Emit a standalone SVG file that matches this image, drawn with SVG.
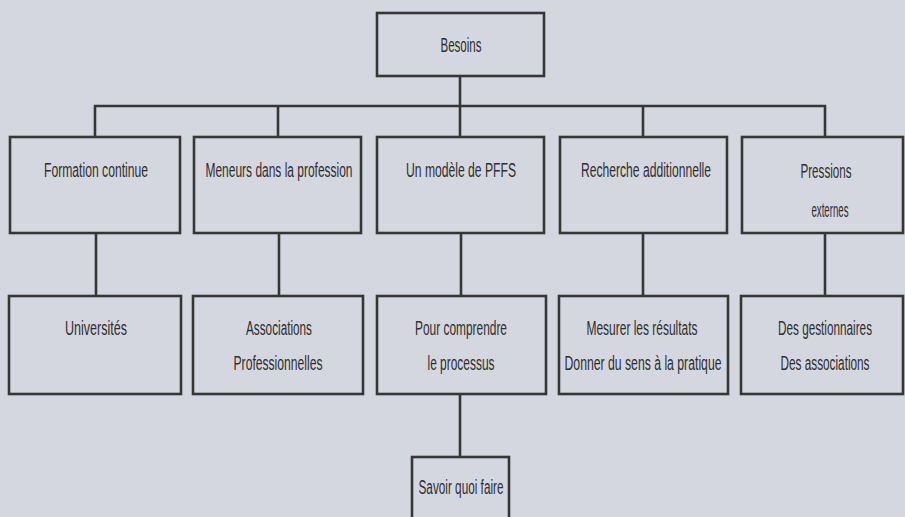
<svg xmlns="http://www.w3.org/2000/svg" width="905" height="517" viewBox="0 0 905 517">
  <style>
    .box { fill: none; stroke: #363636; stroke-width: 2.6; }
    .wire { fill: none; stroke: #363636; stroke-width: 2.6; stroke-linejoin: miter; }
    text { font-family: "Liberation Sans Narrow", "Liberation Sans", Arial, sans-serif; font-size: 20px; fill: #2e2e2e; text-anchor: middle; }
  </style>
  <rect width="905" height="517" fill="#d5d7e0"/>

  <!-- connectors -->
  <g id="connectors">
    <path class="wire" d="M460 76 V106 M95 137 V106 H825 V137 M278 106 V137 M460 106 V137 M643 106 V137"/>
    <path class="wire" d="M96 233 V296 M279 233 V296 M461 233 V296 M643 233 V296 M825 233 V296"/>
    <path class="wire" d="M460 394 V457"/>
  </g>

  <!-- root -->
  <g id="besoins">
    <rect class="box" x="377" y="13" width="167" height="63"/>
    <text x="461" y="52" textLength="41" lengthAdjust="spacingAndGlyphs">Besoins</text>
  </g>

  <!-- first level -->
  <g id="formation">
    <rect class="box" x="10" y="137" width="170" height="96"/>
    <text x="96" y="177" textLength="104" lengthAdjust="spacingAndGlyphs">Formation continue</text>
  </g>
  <g id="meneurs">
    <rect class="box" x="194" y="137" width="167" height="96"/>
    <text x="279" y="177" textLength="147" lengthAdjust="spacingAndGlyphs">Meneurs dans la profession</text>
  </g>
  <g id="modele">
    <rect class="box" x="377" y="137" width="167" height="96"/>
    <text x="461" y="177" textLength="110" lengthAdjust="spacingAndGlyphs">Un modèle de PFFS</text>
  </g>
  <g id="recherche">
    <rect class="box" x="560" y="137" width="167" height="96"/>
    <text x="646" y="177" textLength="130" lengthAdjust="spacingAndGlyphs">Recherche additionnelle</text>
  </g>
  <g id="pressions">
    <rect class="box" x="742" y="137" width="161" height="96"/>
    <text x="826" y="178" textLength="51" lengthAdjust="spacingAndGlyphs">Pressions</text>
    <text x="830" y="217" textLength="37" lengthAdjust="spacingAndGlyphs">externes</text>
  </g>

  <!-- second level -->
  <g id="universites">
    <rect class="box" x="9" y="296" width="172" height="98"/>
    <text x="96" y="335" textLength="62" lengthAdjust="spacingAndGlyphs">Universités</text>
  </g>
  <g id="associations">
    <rect class="box" x="193" y="296" width="170" height="98"/>
    <text x="279" y="335" textLength="66" lengthAdjust="spacingAndGlyphs">Associations</text>
    <text x="278" y="370" textLength="89" lengthAdjust="spacingAndGlyphs">Professionnelles</text>
  </g>
  <g id="comprendre">
    <rect class="box" x="377" y="296" width="169" height="98"/>
    <text x="461" y="335" textLength="92" lengthAdjust="spacingAndGlyphs">Pour comprendre</text>
    <text x="461" y="370" textLength="67" lengthAdjust="spacingAndGlyphs">le processus</text>
  </g>
  <g id="mesurer">
    <rect class="box" x="559" y="296" width="169" height="98"/>
    <text x="642" y="335" textLength="111" lengthAdjust="spacingAndGlyphs">Mesurer les résultats</text>
    <text x="643" y="370" textLength="157" lengthAdjust="spacingAndGlyphs">Donner du sens à la pratique</text>
  </g>
  <g id="gestionnaires">
    <rect class="box" x="741" y="296" width="162" height="98"/>
    <text x="825" y="335" textLength="94" lengthAdjust="spacingAndGlyphs">Des gestionnaires</text>
    <text x="825" y="370" textLength="89" lengthAdjust="spacingAndGlyphs">Des associations</text>
  </g>

  <!-- third level -->
  <g id="savoir">
    <rect class="box" x="412" y="457" width="97" height="70"/>
    <text x="461" y="494" textLength="85" lengthAdjust="spacingAndGlyphs">Savoir quoi faire</text>
  </g>
</svg>
